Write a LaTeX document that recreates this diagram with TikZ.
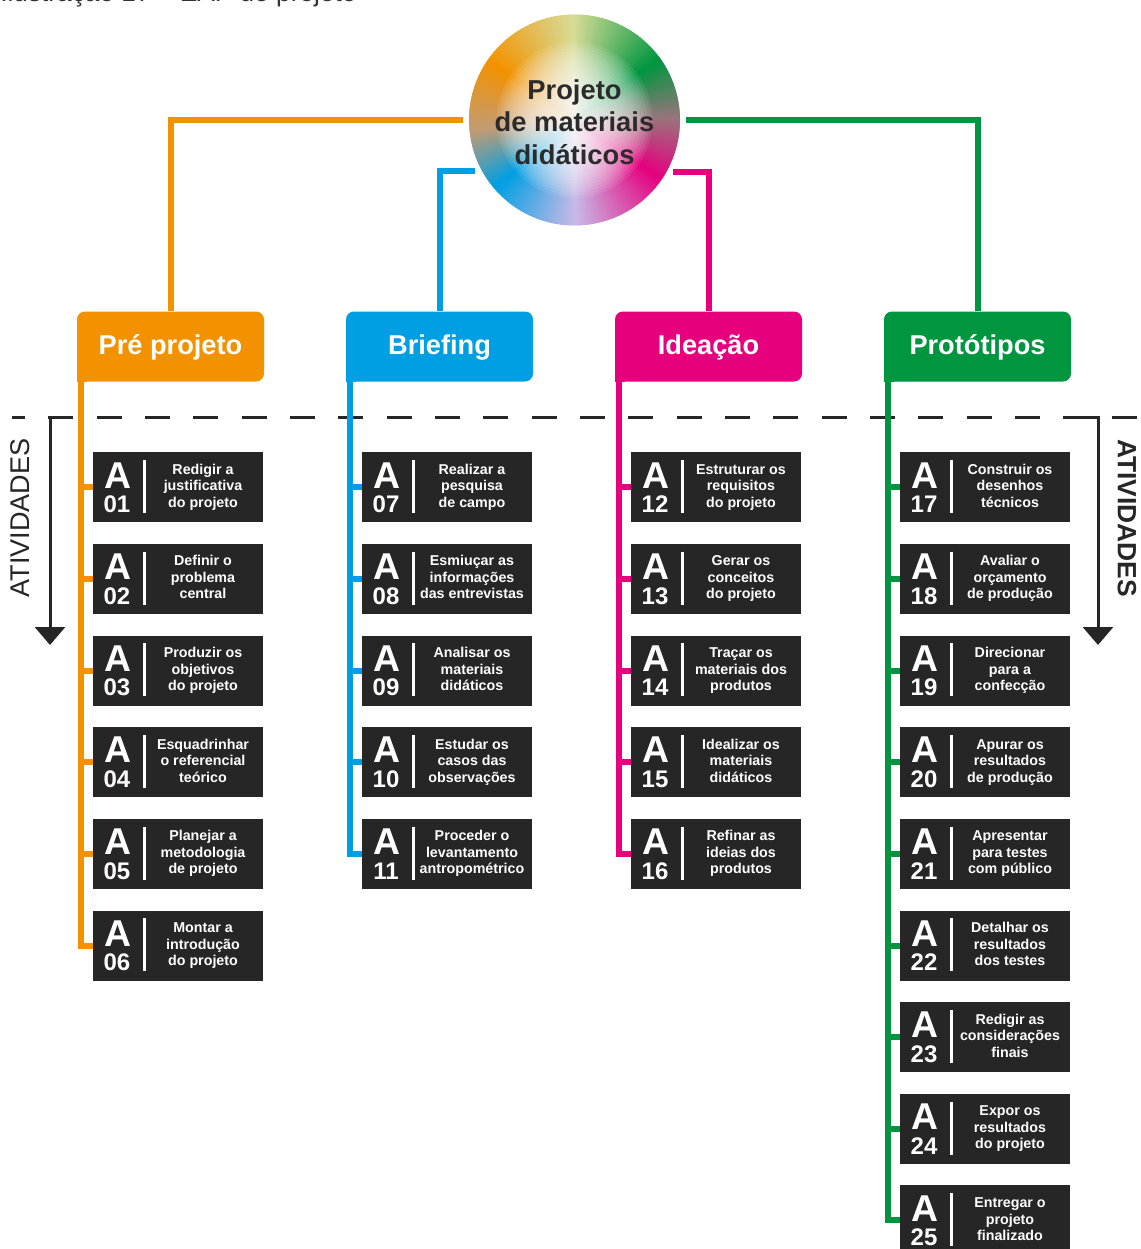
\documentclass[tikz,border=0pt]{standalone}
\usepackage{fontspec}
\setmainfont{Liberation Sans}
\usetikzlibrary{calc,arrows.meta}
\definecolor{cO}{HTML}{F39200}
\definecolor{cB}{HTML}{009FE3}
\definecolor{cM}{HTML}{E6007E}
\definecolor{cG}{HTML}{009640}
\definecolor{dk}{HTML}{262626}
\definecolor{txt}{HTML}{2B2B2B}
\definecolor{r0}{RGB}{155,115,125}
\definecolor{r90}{RGB}{215,220,150}
\definecolor{r185}{RGB}{195,155,115}
\definecolor{r270}{RGB}{200,185,230}
\begin{document}
\begin{tikzpicture}[x=0.75pt,y=-0.75pt,
  hdr/.style={rounded corners=6pt, minimum width=140.25pt, minimum height=52.5pt, inner sep=0pt, text=white,
    font=\fontsize{20.4}{24}\selectfont\bfseries, text height=14.6pt, text depth=2pt},
  actbox/.style={fill=dk, minimum width=127.5pt, minimum height=52.5pt, inner sep=0pt, anchor=north west},
  bigA/.style={anchor=base, inner sep=0pt, text=white, font=\fontsize{28}{30}\selectfont\bfseries},
  num/.style={anchor=base, inner sep=0pt, text=white, font=\fontsize{18}{20}\selectfont\bfseries},
  desc/.style={anchor=center, inner sep=0pt, text=white, align=center, font=\fontsize{10.7}{12.4}\selectfont\bfseries},
  bar/.style={white, line width=2.25pt},
  trunk/.style={line width=4.5pt},
  guide/.style={dk, line width=2.25pt},
]
\useasboundingbox (0,0) rectangle (1141,1249);
\clip (0,0) rectangle (1141,1249);

% caption (partly cut off at the top)
\node[anchor=base west, inner sep=0pt, font=\fontsize{19.7}{22}\selectfont, text=black!80] (cap) at (0,2) {Ilustração 17 – EAP do projeto};

% root circle
\node[circle, minimum size=166.5pt, inner sep=0pt] (root) at (574.5,120) {};
\foreach \aa/\bb/\ca/\cb in {0/35/r0/cG,35/90/cG/r90,90/145/r90/cO,145/185/cO/r185,185/220/r185/cB,220/270/cB/r270,270/325/r270/cM,325/360/cM/r0}{
  \pgfmathtruncatemacro\nn{\bb-\aa-1}
  \foreach \t in {0,...,\nn}{
    \pgfmathtruncatemacro\pp{100*\t/(\bb-\aa)}
    \pgfmathsetmacro\ang{\aa+\t}
    \fill[\cb!\pp!\ca] (574.5,120) -- ++(\ang:79.125pt) arc[start angle=\ang, end angle=\ang+1.6, radius=79.125pt] -- cycle;
  }
}
\foreach \rr in {3,6,...,78}{
  \fill[white, fill opacity=0.085] (574.5,120) circle[radius=\rr];
}
\node[inner sep=0pt, align=center, text=txt, font=\fontsize{20.5}{24.2}\selectfont\bfseries] (roottext) at (574.5,125.5) {\strut Projeto\\de materiais\\didáticos\strut};

% headers
\node[hdr, fill=cO] (pre) at (170.5,346.5) {Pré projeto};
\node[hdr, fill=cB] (brief) at (439.5,346.5) {Briefing};
\node[hdr, fill=cM] (idea) at (708.5,346.5) {Ideação};
\node[hdr, fill=cG] (proto) at (977.5,346.5) {Protótipos};

% top connectors
\draw[trunk,cO] (root.west) -| (pre.north);
\draw[trunk,cG] (root.east) -| (proto.north);
\draw[trunk,cB] (root.207.4) -| (brief.north);
\draw[trunk,cM] (root.332.6) -| (idea.north);

% activity guide
\draw[guide, dash pattern=on 18.75pt off 17.5pt, dash phase=9pt] (12,417) -- (1141,417);
\coordinate (gl0) at (72,417); \coordinate (gl1) at (50,417); \coordinate (gl2) at (50,645);
\draw[guide, -{Triangle[width=22.5pt,length=13.5pt]}] (gl0) -- (gl1) -- (gl2);
\coordinate (gr0) at (1076,417); \coordinate (gr1) at (1098,417); \coordinate (gr2) at (1098,645);
\draw[guide, -{Triangle[width=22.5pt,length=13.5pt]}] (gr0) -- (gr1) -- (gr2);
\node[rotate=90, font=\fontsize{20.3}{24}\selectfont, text=dk] (atl) at (20,518) {ATIVIDADES};
\node[rotate=-90, font=\fontsize{19.8}{24}\selectfont\bfseries, text=dk] (atr) at (1127,518) {ATIVIDADES};

% activity boxes
\foreach \id/\c/\r/\h/\cc/\la/\lb/\lc in {
01/0/0/pre/cO/Redigir a/justificativa/do projeto,
02/0/1/pre/cO/Definir o/problema/central,
03/0/2/pre/cO/Produzir os/objetivos/do projeto,
04/0/3/pre/cO/Esquadrinhar/o referencial/teórico,
05/0/4/pre/cO/Planejar a/metodologia/de projeto,
06/0/5/pre/cO/Montar a/introdução/do projeto,
07/1/0/brief/cB/Realizar a/pesquisa/de campo,
08/1/1/brief/cB/Esmiuçar as/informações/das entrevistas,
09/1/2/brief/cB/Analisar os/materiais/didáticos,
10/1/3/brief/cB/Estudar os/casos das/observações,
11/1/4/brief/cB/Proceder o/levantamento/antropométrico,
12/2/0/idea/cM/Estruturar os/requisitos/do projeto,
13/2/1/idea/cM/Gerar os/conceitos/do projeto,
14/2/2/idea/cM/Traçar os/materiais dos/produtos,
15/2/3/idea/cM/Idealizar os/materiais/didáticos,
16/2/4/idea/cM/Refinar as/ideias dos/produtos,
17/3/0/proto/cG/Construir os/desenhos/técnicos,
18/3/1/proto/cG/Avaliar o/orçamento/de produção,
19/3/2/proto/cG/Direcionar/para a/confecção,
20/3/3/proto/cG/Apurar os/resultados/de produção,
21/3/4/proto/cG/Apresentar/para testes/com público,
22/3/5/proto/cG/Detalhar os/resultados/dos testes,
23/3/6/proto/cG/Redigir as/considerações/finais,
24/3/7/proto/cG/Expor os/resultados/do projeto,
25/3/8/proto/cG/Entregar o/projeto/finalizado}{
  \node[actbox] (a\id) at (93+269*\c, 452+91.65*\r) {};
  \node[bigA] (A\id) at ($(a\id.north west)+(25,36)$) {A};
  \node[num] (n\id) at ($(a\id.north west)+(24,60.5)$) {\id};
  \draw[bar] ($(a\id.north west)+(51,8)$) -- ++(0,53);
  \node[desc] (d\id) at ($(a\id.north west)+(110,35.5)$) {\strut\la\\\lb\\\lc\strut};
}

% spines
\foreach \h/\cc/\last in {pre/cO/06,brief/cB/11,idea/cM/16,proto/cG/25}{
  \fill[\cc] (\h.south west) rectangle ++(10,-10);
  \coordinate (s\h) at ($(\h.south west)+(4,-2)$);
  \draw[trunk,\cc] (s\h) -- (s\h |- a\last.west) -- (a\last.west);
}
\foreach \id/\h/\cc in {01/pre/cO,02/pre/cO,03/pre/cO,04/pre/cO,05/pre/cO,
  07/brief/cB,08/brief/cB,09/brief/cB,10/brief/cB,
  12/idea/cM,13/idea/cM,14/idea/cM,15/idea/cM,
  17/proto/cG,18/proto/cG,19/proto/cG,20/proto/cG,21/proto/cG,22/proto/cG,23/proto/cG,24/proto/cG}{
  \draw[trunk,\cc] (s\h |- a\id.west) -- (a\id.west);
}
\end{tikzpicture}
\end{document}
